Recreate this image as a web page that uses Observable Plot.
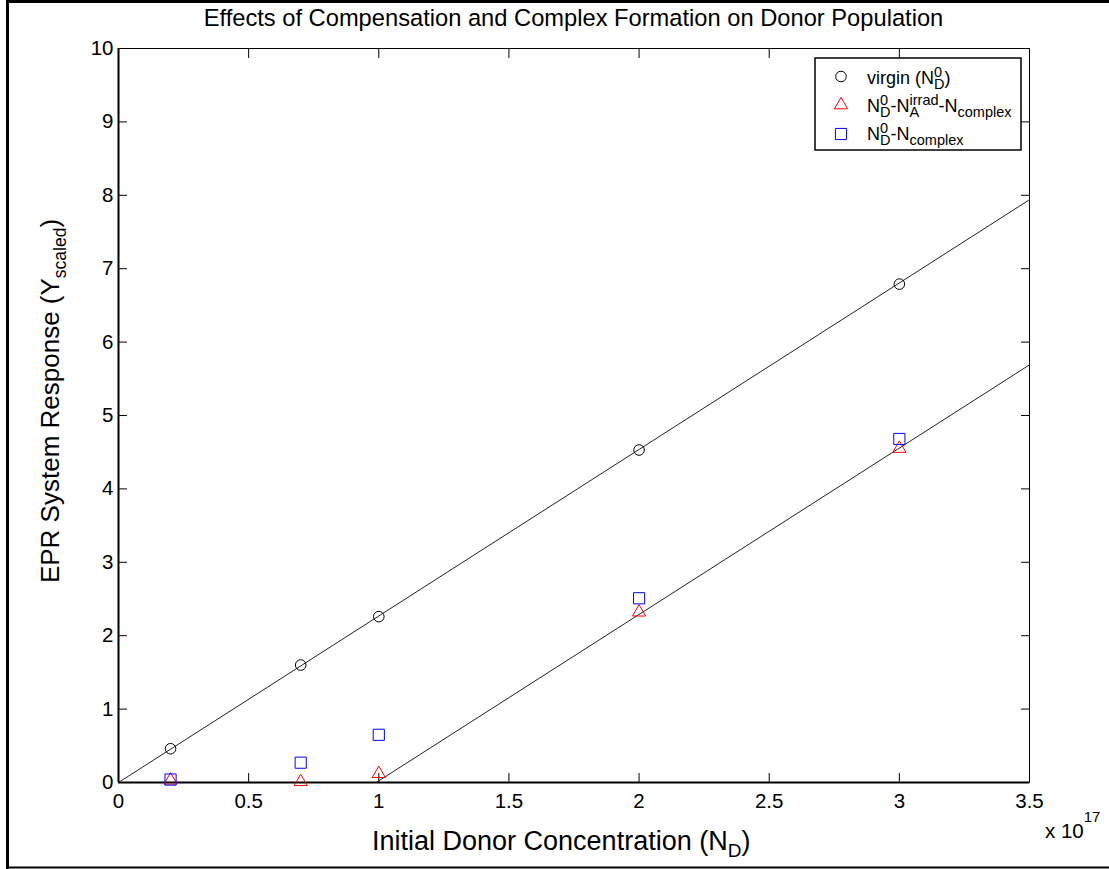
<!DOCTYPE html>
<html><head><meta charset="utf-8">
<script src="https://cdn.jsdelivr.net/npm/d3@7"></script>
<script src="https://cdn.jsdelivr.net/npm/@observablehq/plot@0.6"></script>
<style>
html,body{margin:0;padding:0;background:#fff;}
#chart{position:relative;width:1109px;height:869px;overflow:hidden;}
#chart svg{font-family:"Liberation Sans",Arial,sans-serif;display:block;}
</style></head><body><div id="chart"></div>
<script>
// ---- data ----
const donorX = [0.2, 0.7, 1, 2, 3];               // x 10^17
const virginY = [0.46, 1.60, 2.26, 4.53, 6.79];   // circles
const compY = [0.03, 0.01, 0.12, 2.32, 4.55];     // triangles
const complexY = [0.04, 0.27, 0.65, 2.51, 4.68];  // squares
const fitVirginX = [0, 3.5];
const fitVirginY = [0, 7.94];
const fitCompX = [0.99, 3.5];
const fitCompY = [0, 5.69];
const xTicks = [0, 0.5, 1, 1.5, 2, 2.5, 3, 3.5];
const xTickLabels = ["0", "0.5", "1", "1.5", "2", "2.5", "3", "3.5"];
const yTicks = [0, 1, 2, 3, 4, 5, 6, 7, 8, 9, 10];
const yTickLabels = ["0", "1", "2", "3", "4", "5", "6", "7", "8", "9", "10"];

const pts = (ys) => donorX.map((x, i) => ({x, y: ys[i]}));
const seg = (xs, ys) => xs.map((x, i) => ({x, y: ys[i]}));

const font = "'Liberation Sans', Arial, sans-serif";
const plot = Plot.plot({
  width: 1109, height: 869,
  marginLeft: 118, marginRight: 80, marginTop: 48, marginBottom: 87,
  style: {fontFamily: font, fontSize: "20px", color: "#000", background: "#fff"},
  x: {domain: [0, 3.5]},
  y: {domain: [0, 10]},
  marks: [
    Plot.frame({stroke: "#000", strokeWidth: 1}),
    Plot.axisX(xTicks, {anchor: "bottom", tickSize: -9, tickPadding: 20, label: null, fontSize: 20.5,
      tickFormat: d => xTickLabels[xTicks.indexOf(d)]}),
    Plot.axisX(xTicks, {anchor: "top", tickSize: -9, label: null, tickFormat: () => ""}),
    Plot.axisY(yTicks, {anchor: "left", tickSize: -9, tickPadding: 14, label: null, fontSize: 20.5,
      tickFormat: d => yTickLabels[yTicks.indexOf(d)]}),
    Plot.axisY(yTicks, {anchor: "right", tickSize: -9, label: null, tickFormat: () => ""}),
    Plot.ruleY([0], {stroke: "#000", strokeWidth: 2}),
    Plot.ruleX([0], {stroke: "#000", strokeWidth: 2}),
    Plot.line(seg(fitVirginX, fitVirginY), {x: "x", y: "y", stroke: "#222", strokeWidth: 1}),
    Plot.line(seg(fitCompX, fitCompY), {x: "x", y: "y", stroke: "#222", strokeWidth: 1}),
    Plot.dot(pts(virginY), {x: "x", y: "y", symbol: "circle", r: 5.3, stroke: "#000", fill: "none", strokeWidth: 1}),
    Plot.dot(pts(compY), {x: "x", y: "y", symbol: "triangle", r: 4.9, stroke: "#ff0000", fill: "none", strokeWidth: 1}),
    Plot.dot(pts(complexY), {x: "x", y: "y", symbol: "square", r: 6.3, stroke: "#0000ff", fill: "none", strokeWidth: 1})
  ]
});
document.getElementById("chart").appendChild(plot);

const svg = d3.select(plot);
// outer figure border
const border = svg.append("g").attr("fill", "none").attr("stroke", "#000");
border.append("line").attr("x1", 6).attr("x2", 1109).attr("y1", 1.5).attr("y2", 1.5).attr("stroke-width", 3);
border.append("line").attr("x1", 7.5).attr("x2", 7.5).attr("y1", 0).attr("y2", 869).attr("stroke-width", 3);
border.append("line").attr("x1", 6).attr("x2", 1109).attr("y1", 867.5).attr("y2", 867.5).attr("stroke-width", 2);

const txt = svg.append("g").attr("fill", "#000").attr("font-family", font).attr("text-anchor", "start");
// title
txt.append("text").attr("x", 573.5).attr("y", 26).attr("text-anchor", "middle").attr("font-size", 23.7)
  .text("Effects of Compensation and Complex Formation on Donor Population");

// x label with subscript
const xl = txt.append("text").attr("x", 372).attr("y", 850).attr("font-size", 27);
xl.append("tspan").text("Initial Donor Concentration (N");
xl.append("tspan").attr("font-size", 19).attr("dy", 7).text("D");
xl.append("tspan").attr("dy", -7).text(")");

// y label rotated
const yl = txt.append("text").attr("transform", "translate(59,401) rotate(-90)").attr("text-anchor", "middle").attr("font-size", 26);
yl.append("tspan").text("EPR System Response (Y");
yl.append("tspan").attr("font-size", 17.5).attr("dy", 7).text("scaled");
yl.append("tspan").attr("dy", -7).text(")");

// exponent note
const ex = txt.append("text").attr("x", 1045).attr("y", 838).attr("font-size", 20.5);
ex.append("tspan").text("x 10");
ex.append("tspan").attr("font-size", 15).attr("dy", -16).text("17");

// legend
const lg = svg.append("g").attr("text-anchor", "start");
lg.append("rect").attr("x", 815).attr("y", 58).attr("width", 206).attr("height", 92)
  .attr("fill", "#fff").attr("stroke", "#000").attr("stroke-width", 1.5);
const sym = (type, r) => d3.symbol(type, Math.PI * r * r)();
lg.append("path").attr("d", sym(d3.symbolCircle, 5.3)).attr("transform", "translate(841,76.5)").attr("fill", "none").attr("stroke", "#000");
lg.append("path").attr("d", sym(d3.symbolTriangle, 4.9)).attr("transform", "translate(841,105)").attr("fill", "none").attr("stroke", "#ff0000");
lg.append("path").attr("d", sym(d3.symbolSquare, 6.3)).attr("transform", "translate(841,134)").attr("fill", "none").attr("stroke", "#0000ff");

const fs = 18, ss = 14.5, up = -7.5, dn = 5;
function stackND(t) {
  // N with stacked superscript 0 and subscript D
  t.append("tspan").attr("font-size", ss).attr("dy", up).text("0");
  t.append("tspan").attr("font-size", ss).attr("dx", -0.556 * ss).attr("dy", -up + dn).text("D");
  return -dn;
}
const l1 = lg.append("text").attr("x", 867).attr("y", 84).attr("font-size", fs).attr("font-family", font);
l1.append("tspan").text("virgin (N");
let back = stackND(l1);
l1.append("tspan").attr("dy", back).text(")");

const l2 = lg.append("text").attr("x", 867).attr("y", 112).attr("font-size", fs).attr("font-family", font);
l2.append("tspan").text("N");
back = stackND(l2);
l2.append("tspan").attr("dy", back).text("-N");
l2.append("tspan").attr("font-size", ss).attr("dy", up).text("irrad");
const wIrrad = (0.222 + 0.333 + 0.333 + 0.556 + 0.556) * ss;
const wA = 0.667 * ss;
l2.append("tspan").attr("font-size", ss).attr("dx", -wIrrad).attr("dy", -up + dn).text("A");
l2.append("tspan").attr("dx", wIrrad - wA).attr("dy", -dn).text("-N");
l2.append("tspan").attr("font-size", ss).attr("dy", dn).text("complex");

const l3 = lg.append("text").attr("x", 867).attr("y", 140).attr("font-size", fs).attr("font-family", font);
l3.append("tspan").text("N");
back = stackND(l3);
l3.append("tspan").attr("dy", back).text("-N");
l3.append("tspan").attr("font-size", ss).attr("dy", dn).text("complex");
</script>
</body></html>
